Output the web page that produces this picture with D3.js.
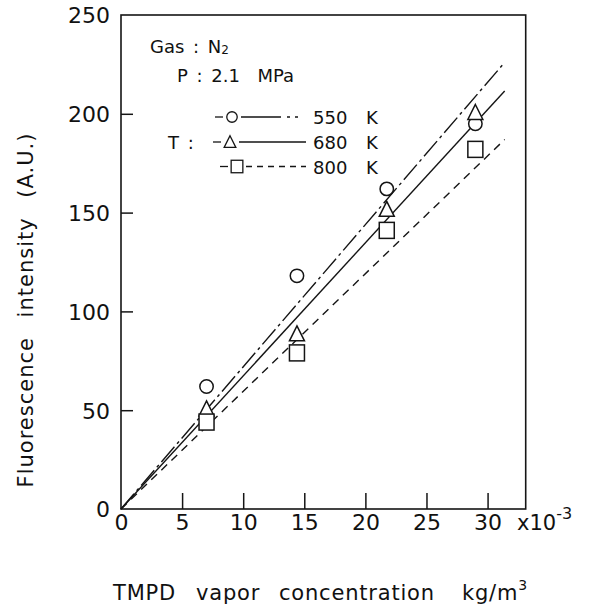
<!DOCTYPE html>
<html><head><meta charset="utf-8">
<script src="https://cdn.jsdelivr.net/npm/d3@7"></script>
<style>
html,body{margin:0;padding:0;background:#fff;}
text{font-family:"DejaVu Sans",Verdana,sans-serif;fill:#111;white-space:pre;}
</style></head>
<body><svg id="c" width="593" height="606"></svg>
<script>
// ---- data ----
const xConc = [7.0, 14.4, 21.75, 29.0];          // TMPD vapor concentration ×10^-3 kg/m^3
const series = ["550 K", "680 K", "800 K"];
const i550 = [62, 118, 162, 195];
const i680 = [50, 88, 151, 200];
const i800 = [44, 79, 141, 182];
const fitEndX = 31.4;                          // fitted lines through origin
const fitEndY = [226, 211.5, 187];
const xTicks = [0, 5, 10, 15, 20, 25, 30];
const yTicks = [0, 50, 100, 150, 200, 250];

const svg = d3.select("#c");
const L = 121, R = 525.7, T = 15, B = 509;
const x = d3.scaleLinear().domain([0, 33.12]).range([L, R]);
const y = d3.scaleLinear().domain([0, 250]).range([B, T]);
const ink = "#151515";

// frame
svg.append("rect").attr("x", L).attr("y", T).attr("width", R - L).attr("height", B - T)
  .attr("fill", "none").attr("stroke", ink).attr("stroke-width", 1.6);

// x axis (ticks inward)
const xa = svg.append("g").attr("transform", `translate(0,${B})`)
  .call(d3.axisBottom(x).tickValues(xTicks).tickSizeInner(-16).tickSizeOuter(0).tickPadding(0).tickFormat(d3.format("d")));
xa.select(".domain").remove();
xa.selectAll(".tick line").attr("stroke", ink).attr("stroke-width", 1.5);
xa.selectAll(".tick text").attr("font-size", 22).attr("y", 21).attr("dy", 0).attr("fill", ink);
xa.selectAll(".tick").filter(d => d === 0).select("line").remove();

// y axis (ticks inward)
const ya = svg.append("g").attr("transform", `translate(${L},0)`)
  .call(d3.axisLeft(y).tickValues(yTicks).tickSizeInner(-12).tickSizeOuter(0).tickPadding(0).tickFormat(d3.format("d")));
ya.select(".domain").remove();
ya.selectAll(".tick line").attr("stroke", ink).attr("stroke-width", 1.5);
ya.selectAll(".tick").filter(d => d === 0 || d === 250).select("line").remove();
ya.selectAll(".tick text").attr("font-size", 22).attr("x", -11).attr("dy", "0.36em").attr("fill", ink);

// x10^-3
const ex = svg.append("text").attr("x", 517).attr("y", 530).attr("font-size", 21);
ex.append("tspan").text("x10");
ex.append("tspan").attr("dy", -11).attr("font-size", 16).text("-3");

// axis titles
const xt = svg.append("text").attr("y", 600).attr("font-size", 21).attr("letter-spacing", 0.8);
xt.append("tspan").attr("x", 113).text("TMPD");
xt.append("tspan").attr("x", 196).text("vapor");
xt.append("tspan").attr("x", 279).text("concentration");
xt.append("tspan").attr("x", 462).text("kg/m");
xt.append("tspan").attr("dy", -10).attr("font-size", 14).text("3");

svg.append("text").attr("transform", "translate(33,310) rotate(-90)").attr("text-anchor", "middle")
  .attr("font-size", 21).attr("letter-spacing", 1).attr("word-spacing", 12).text("Fluorescence intensity (A.U.)");

// fitted lines
const dashes = ["20,4,3,4", null, "8,6"];
fitEndY.forEach((v, i) => {
  svg.append("line").attr("x1", x(0)).attr("y1", y(0)).attr("x2", x(fitEndX)).attr("y2", y(v))
    .attr("stroke", ink).attr("stroke-width", 1.4).attr("stroke-dasharray", dashes[i]);
});

// markers
function marker(g, type, cx, cy, s) {
  if (type === 0) g.append("circle").attr("cx", cx).attr("cy", cy).attr("r", 6.7 * s);
  else if (type === 1) {
    const w = 15 * s, h = 15 * s;
    g.append("path").attr("d", `M${cx},${cy - h * 0.62}L${cx + w / 2},${cy + h * 0.38}L${cx - w / 2},${cy + h * 0.38}Z`);
  } else {
    const w = 15 * s, h = 16 * s;
    g.append("rect").attr("x", cx - w / 2).attr("y", cy - h / 2).attr("width", w).attr("height", h);
  }
}
const mg = svg.append("g").attr("fill", "#fff").attr("stroke", ink).attr("stroke-width", 1.5);
[i550, i680, i800].forEach((vals, si) => {
  vals.forEach((v, j) => marker(mg, si, x(xConc[j]), y(v), 1));
});

// legend / annotations
const g1 = svg.append("text").attr("x", 150).attr("y", 53).attr("font-size", 18).attr("word-spacing", 3);
g1.append("tspan").text("Gas : N");
g1.append("tspan").attr("font-size", 12).attr("dy", 1).text("2");
svg.append("text").attr("x", 177).attr("y", 82).attr("font-size", 18).attr("word-spacing", 3).text("P : 2.1  MPa");
svg.append("text").attr("x", 168).attr("y", 149).attr("font-size", 18).attr("word-spacing", 3).text("T :");

const rows = [117, 142, 166.5];
const lg = svg.append("g").attr("stroke", ink).attr("stroke-width", 1.3);
const lm = svg.append("g").attr("fill", "#fff").attr("stroke", ink).attr("stroke-width", 1.3);
series.forEach((s, i) => {
  const yy = rows[i];
  const mx = [232, 230, 237][i];
  lg.append("line").attr("x1", mx - 17).attr("x2", mx - 9).attr("y1", yy).attr("y2", yy);
  lg.append("line").attr("x1", mx + 9).attr("x2", 306).attr("y1", yy).attr("y2", yy)
    .attr("stroke-dasharray", i === 0 ? "40,6,3,5,3,10" : i === 2 ? "6,5" : null);
  marker(lm, i, mx, yy + (i === 1 ? 1 : 0), 0.78);
  svg.append("text").attr("x", 313).attr("y", yy + 7).attr("font-size", 18).text(s.split(" ")[0]);
  svg.append("text").attr("x", 366).attr("y", yy + 7).attr("font-size", 18).text(s.split(" ")[1]);
});
</script></body></html>
